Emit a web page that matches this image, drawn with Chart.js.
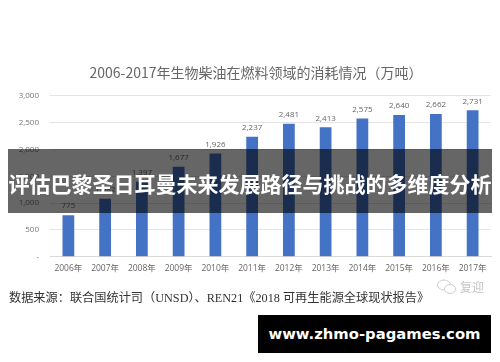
<!DOCTYPE html>
<html><head><meta charset="utf-8">
<style>
html,body{margin:0;padding:0;background:#fff;width:500px;height:362px;overflow:hidden}
#wrap{position:absolute;left:0;top:0;width:500px;height:362px;filter:blur(0.4px)}
.t{position:absolute;white-space:nowrap}
#banner{position:absolute;left:8px;top:149px;width:484px;height:64px;background:rgba(0,0,0,.6);color:#fff;font:bold 21px "Noto Sans CJK SC";line-height:69px;text-align:center;white-space:nowrap;overflow:visible}
#source{left:9px;top:288px;font:12.2px "Liberation Serif","Noto Sans CJK SC";color:#333}
#mark{left:460px;top:278px;font:12px "Noto Sans CJK SC";color:#c4c4c4}
#icon{position:absolute;left:436px;top:279px}
#foot{position:absolute;left:258px;top:315px;width:233px;height:38px;background:#000;color:#fff;font:bold 14.8px "DejaVu Sans";line-height:38px;text-align:center}
</style></head><body>
<div id="wrap"><canvas id="c" width="500" height="362" style="display:block;width:500px;height:362px"></canvas>
<div class="t" id="source">数据来源：联合国统计司（UNSD）、REN21《2018 可再生能源全球现状报告》</div>
<svg id="icon" width="22" height="16"><ellipse cx="8" cy="6" rx="6.5" ry="5" fill="#fff" stroke="#cfcfcf"/><ellipse cx="14" cy="10" rx="5.5" ry="4.5" fill="#fff" stroke="#cfcfcf"/></svg>
<div class="t" id="mark">复迎</div></div>
<div id="banner">评估巴黎圣日耳曼未来发展路径与挑战的多维度分析</div>
<div id="foot">www.zhmo-pagames.com</div>
<script src="https://cdn.jsdelivr.net/npm/chart.js@4"></script>
<script>
const categories=["2006年","2007年","2008年","2009年","2010年","2011年","2012年","2013年","2014年","2015年","2016年","2017年"];
const consumption=[775,1082,1397,1677,1926,2237,2481,2413,2575,2640,2662,2731];
const yTicks=[0,500,1000,1500,2000,2500,3000];
const chartTitle="2006-2017年生物柴油在燃料领域的消耗情况（万吨）";
const valueLabels={id:'valueLabels',
 afterLayout(chart){chart.titleBlock.left+=10.5;chart.titleBlock.right+=10.5;},
 afterDatasetsDraw(chart){
 const {ctx}=chart,m=chart.getDatasetMeta(0);
 ctx.save();ctx.font='8px "Open Sans"';ctx.fillStyle='#666';ctx.textAlign='center';ctx.textBaseline='bottom';
 m.data.forEach((b,i)=>ctx.fillText(consumption[i].toLocaleString('en-US'),b.x,b.y-5));
 ctx.restore();
}};
new Chart(document.getElementById('c'),{type:'bar',plugins:[valueLabels],
 data:{labels:categories,datasets:[{data:consumption,backgroundColor:'#4472c4',barPercentage:0.32,categoryPercentage:1}]},
 options:{responsive:false,animation:false,
  layout:{padding:{left:0,right:9,top:0,bottom:89}},
  plugins:{legend:{display:false},tooltip:{enabled:false},
   title:{display:true,text:chartTitle,color:'#666',font:{family:'"Noto Sans CJK SC"',size:14,weight:'normal'},padding:{top:64,bottom:15}}},
  scales:{
   x:{grid:{display:false},border:{color:'#d9d9d9'},ticks:{color:'#666',font:{family:'"Open Sans","Noto Sans CJK SC"',size:8.5},maxRotation:0,autoSkip:false,padding:-1}},
   y:{min:0,max:3000,afterBuildTicks(s){s.ticks=yTicks.map(v=>({value:v}))},afterFit(s){s.width=50},
      grid:{color:'#e4e4e4',drawTicks:false},border:{display:false},
      ticks:{color:'#777',font:{family:'"Open Sans"',size:8},padding:11,callback:v=>v===0?'-':v.toLocaleString('en-US')}}
  }}});
</script></body></html>
